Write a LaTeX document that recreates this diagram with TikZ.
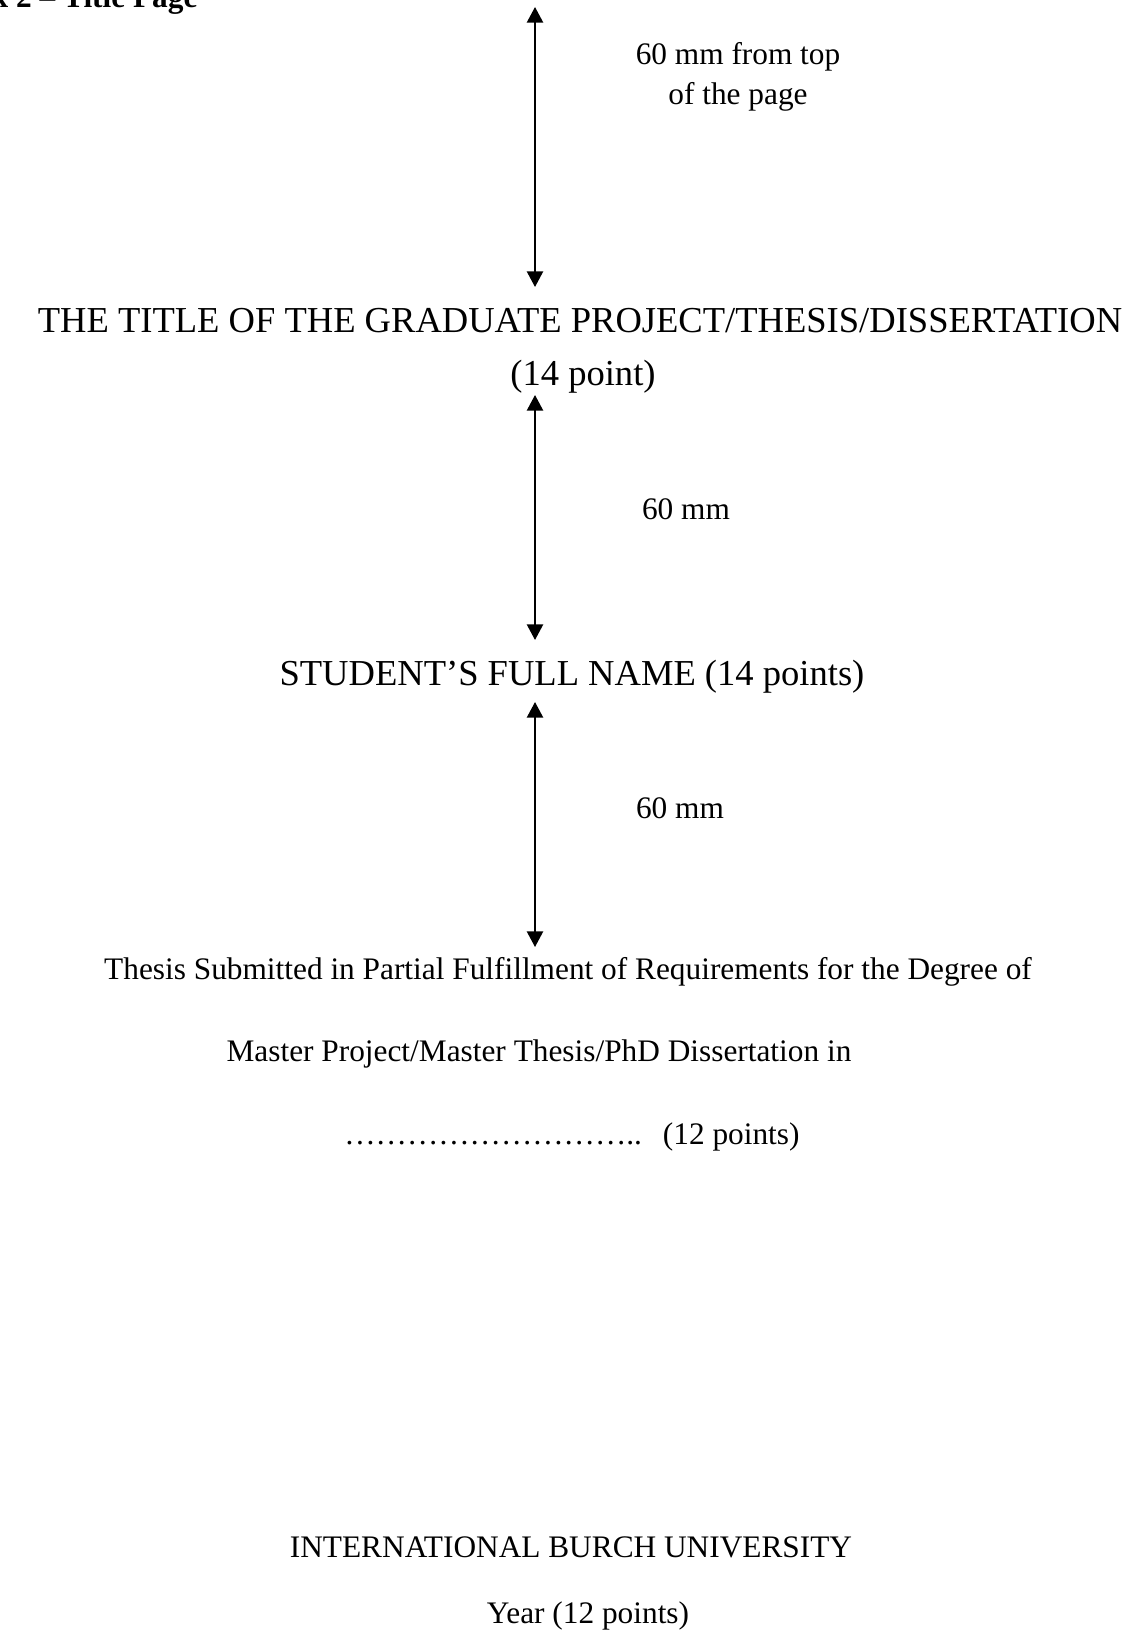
\documentclass[tikz,border=0pt]{standalone}
\usepackage{fontspec}
\setmainfont{Liberation Serif}
\usetikzlibrary{arrows.meta}

\begin{document}
\begin{tikzpicture}[x=0.383pt,y=-0.383pt,
  plain/.style={inner sep=0pt,font=\fontsize{12}{14}\selectfont,text height=1.5ex,text depth=.25ex},
  big/.style={plain,font=\fontsize{14}{17}\selectfont},
  dimarrow/.style={line width=0.75pt,{Triangle[length=6pt,width=6.2pt]}-{Triangle[length=6pt,width=6.2pt]}}]
\useasboundingbox (0,0) rectangle (1145,1631);
\clip (0,0) rectangle (1145,1631);

% Heading (cut by the page edge)
\node[plain,font=\fontsize{12}{14}\selectfont\bfseries,anchor=base east] (head) at (198,8) {Appendix 2 – Title Page};

% Draw spacing markers
\coordinate (m1a) at (535,7);
\coordinate (m1b) at (535,287);
\coordinate (m2a) at (535,395);
\coordinate (m2b) at (535,640);
\coordinate (m3a) at (535,702);
\coordinate (m3b) at (535,947);
\draw[dimarrow] (m1a) -- (m1b);
\draw[dimarrow] (m2a) -- (m2b);
\draw[dimarrow] (m3a) -- (m3b);

% Add spacing labels
\node[plain] (gap1) at (738,57) {60 mm from top};
\node[plain] (gap1b) at (738,97) {of the page};
\node[plain] (gap2) at (686,512) {60 mm};
\node[plain] (gap3) at (680,811) {60 mm};

% Add title page lines
\node[big] (title) at (580,325) {THE TITLE OF THE GRADUATE PROJECT/THESIS/DISSERTATION};
\node[big] (titlesize) at (583,378) {(14 point)};
\node[big] (student) at (572,678) {STUDENT’S FULL NAME (14 points)};
\node[plain] (thesis) at (568,972) {Thesis Submitted in Partial Fulfillment of Requirements for the Degree of};
\node[plain] (degree) at (539,1054) {Master Project/Master Thesis/PhD Dissertation in};
\node[plain] (field) at (572,1137) {………………………..\hspace{8pt}(12 points)};
\node[plain] (uni) at (571,1550) {INTERNATIONAL BURCH UNIVERSITY};
\node[plain] (year) at (588,1616) {Year (12 points)};
\end{tikzpicture}
\end{document}
